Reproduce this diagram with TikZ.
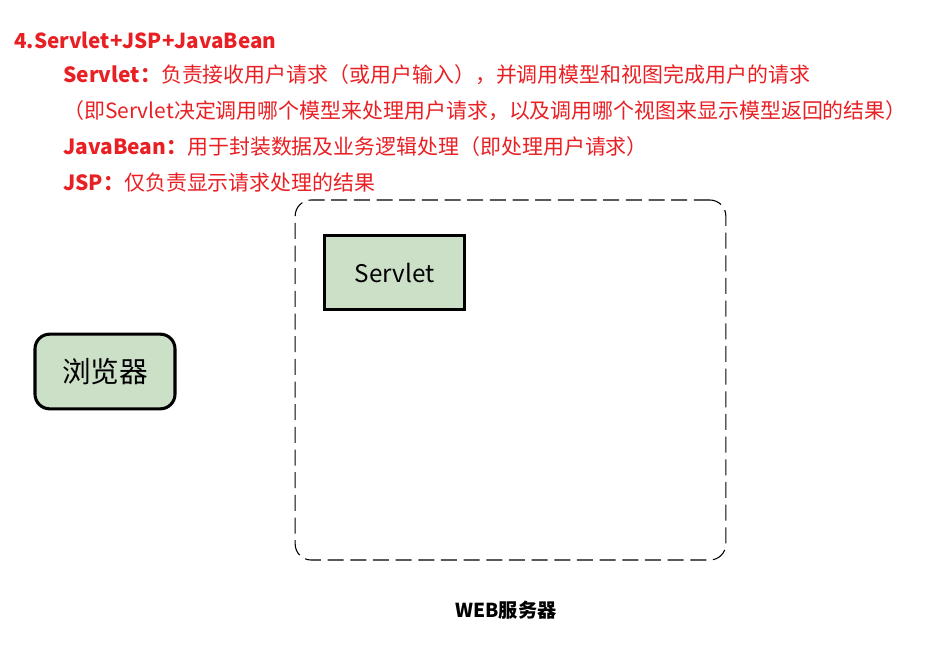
\documentclass[tikz,border=0pt]{standalone}
\usepackage{fontspec}
\setmainfont{Noto Sans CJK SC}
\definecolor{notered}{RGB}{232,32,36}
\definecolor{boxgreen}{RGB}{204,224,200}
\tikzset{
    noteline/.style={anchor=west, inner sep=0pt, text=notered,
        font=\fontsize{15.7}{18}\selectfont},
    greenbox/.style={draw=black, line width=2.3pt, fill=boxgreen,
        minimum width=105pt, minimum height=56pt, inner sep=0pt},
}
\begin{document}
\begin{tikzpicture}[x=0.75pt,y=-0.75pt]
    \useasboundingbox (0,0) rectangle (931,646);

    % 说明文字
    \node[noteline, font=\fontsize{15.5}{18}\selectfont\bfseries] (title) at (14,40) {4.Servlet+JSP+JavaBean};
    \node[noteline] (servletnote) at (63,75) {\textbf{Servlet：}负责接收用户请求（或用户输入），并调用模型和视图完成用户的请求};
    \node[noteline] (servletmore) at (63,111) {（即Servlet决定调用哪个模型来处理用户请求，以及调用哪个视图来显示模型返回的结果）};
    \node[noteline] (beannote) at (63,147) {\textbf{JavaBean：}用于封装数据及业务逻辑处理（即处理用户请求）};
    \node[noteline] (jspnote) at (63,183) {\textbf{JSP：}仅负责显示请求处理的结果};

    % WEB服务器
    \node[draw=black, line width=0.8pt, dash pattern=on 12pt off 5pt,
          rounded corners=12pt, minimum width=323pt, minimum height=270pt,
          inner sep=0pt] (webserver) at (510.5,380) {};
    \node[font=\fontsize{14.4}{16}\selectfont\bfseries] (serverlabel) at (506,610) {WEB服务器};

    % 方框
    \node[greenbox, font=\fontsize{18.2}{20}\selectfont] (servlet) at (394.5,272.5) {Servlet};
    \node[greenbox, rounded corners=11pt, font=\fontsize{21.5}{24}\selectfont] (browser) at (105,371.5) {浏览器};
\end{tikzpicture}
\end{document}
